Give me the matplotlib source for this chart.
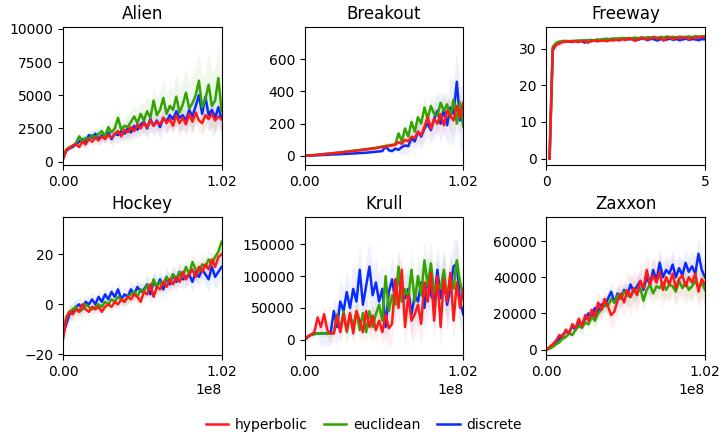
import numpy as np
import matplotlib
matplotlib.use("Agg")
import matplotlib.pyplot as plt

games = ["Alien", "Breakout", "Freeway", "Hockey", "Krull", "Zaxxon"]
methods = ["hyperbolic", "euclidean", "discrete"]
colors = {"hyperbolic": "#ff1a1a", "euclidean": "#33a300", "discrete": "#0a2bff"}

alien_hyperbolic = [200, 900, 1000, 1200, 1300, 1100, 1500, 1300, 1700, 1500, 1800, 1600, 1900, 1700, 2000, 1800, 2100, 2300, 1900, 2400, 2200, 2600, 2300, 2800, 2500, 2900, 2600, 3100, 2700, 3000, 2800, 3300, 2900, 3200, 2700, 3500, 2900, 3300, 2800, 3600, 3000, 3700, 3100, 2900, 3500, 3200, 3600, 3100, 3400, 3200]
alien_euclidean = [200, 900, 1100, 1200, 1400, 1900, 1500, 1800, 1700, 2000, 1800, 2100, 2300, 1900, 2600, 2200, 2500, 3300, 2400, 2700, 2600, 3000, 3400, 2900, 3600, 3100, 3800, 3300, 4600, 3500, 3900, 4800, 3600, 4200, 3900, 4900, 3700, 4300, 5200, 4000, 4400, 5000, 6100, 4100, 4700, 5800, 4200, 4600, 6300, 3800]
alien_discrete = [200, 800, 1000, 1100, 1300, 1500, 1700, 1400, 2000, 1800, 2100, 1700, 2000, 1900, 2200, 1700, 2100, 2000, 2300, 2100, 2500, 2200, 2700, 2400, 2800, 3000, 2500, 3200, 2700, 3100, 2600, 3300, 3000, 3500, 3200, 3800, 3300, 3500, 3100, 3900, 3400, 4200, 5000, 3600, 4900, 3500, 3900, 3300, 4100, 3200]

breakout_hyperbolic = [0, 2, 3, 5, 7, 9, 11, 13, 15, 17, 19, 21, 23, 26, 28, 30, 33, 35, 38, 40, 42, 45, 48, 52, 55, 58, 62, 65, 70, 85, 75, 100, 90, 120, 110, 150, 130, 180, 240, 170, 230, 200, 260, 190, 280, 250, 220, 310, 240, 330]
breakout_euclidean = [0, 2, 4, 6, 8, 10, 12, 14, 16, 18, 20, 22, 25, 27, 30, 32, 35, 37, 40, 42, 45, 48, 50, 55, 58, 62, 65, 68, 72, 140, 90, 170, 120, 210, 150, 240, 200, 300, 230, 310, 260, 250, 330, 280, 320, 240, 350, 200, 330, 180]
breakout_discrete = [0, 1, 2, 3, 4, 5, 6, 7, 8, 9, 10, 11, 12, 13, 14, 15, 16, 18, 19, 20, 22, 24, 26, 28, 30, 60, 35, 30, 45, 38, 55, 65, 60, 110, 90, 150, 120, 170, 200, 160, 230, 280, 200, 290, 190, 300, 260, 460, 220, 260]

freeway_hyperbolic = [0, 30, 31, 31.3, 31.8, 32, 31.9, 32, 32, 31.8, 32, 32.1, 31.6, 32, 32.2, 32, 32.1, 32.2, 32, 32.3, 32.2, 32.4, 32.2, 32.6, 32.3, 32.8, 32.5, 32.1, 32.6, 32.9, 32.7, 32.5, 32.8, 33, 32.7, 32.9, 32.2, 33, 32.8, 32.6, 33, 32.7, 33.1, 32.9, 32.6, 33, 32.8, 33.1, 33.2, 33.1]
freeway_euclidean = [0, 30.5, 31.5, 31.9, 32, 32.1, 32, 32.1, 32, 32.2, 32.1, 32.3, 32.1, 32.4, 32.2, 32.5, 32.3, 32.6, 32.7, 32.5, 32.8, 32.6, 32.8, 32.9, 32.7, 32.9, 32.8, 33, 32.8, 33.1, 32.9, 33.1, 33, 33.2, 32.9, 33.2, 33, 33.3, 33.1, 33.2, 33, 33.3, 33.1, 33.2, 33.3, 33.1, 33.4, 33.2, 33.3, 33.4]
freeway_discrete = [0, 29.5, 31, 31.6, 31.8, 31.9, 32, 31.8, 32.1, 32, 32.2, 31.6, 32.3, 32, 32.2, 32.1, 32.4, 32.5, 32.3, 32.6, 32.4, 32.7, 32.5, 32.6, 32.8, 32.5, 32.7, 32.6, 32.4, 32.8, 32.6, 32.3, 32.7, 32.5, 32.2, 32.6, 32.3, 32.5, 32.7, 32.4, 32.6, 32.3, 32.5, 32.7, 32.4, 32.6, 32.5, 32.3, 32.6, 32.5]

hockey_hyperbolic = [-14, -6, -3, -4, -2, -3, 0, -2, -3, -1, -2, -1, -3, -1, 0, -1, 1, 0, 2, 1, 3, 2, 4, 3, 1, 5, 4, 8, 3, 7, 6, 9, 7, 10, 8, 11, 9, 13, 10, 12, 14, 11, 15, 13, 16, 14, 18, 15, 19, 20]
hockey_euclidean = [-12, -5, -3, -2, -1, -3, -2, 0, -1, -2, -1, 0, -1, 1, 0, 2, 1, 3, 2, 1, 3, 4, 5, 3, 6, 5, 8, 6, 10, 7, 9, 8, 11, 9, 12, 10, 13, 11, 15, 12, 17, 14, 13, 16, 15, 18, 16, 19, 21, 25]
hockey_discrete = [-12, -8, -4, -3, -1, 0, -2, 1, 0, 2, 0, 3, 1, 4, 2, 5, 3, 6, 2, 4, 3, 6, 4, 7, 5, 6, 8, 4, 9, 7, 10, 6, 11, 8, 12, 9, 13, 10, 11, 12, 9, 13, 11, 14, 12, 10, 15, 11, 13, 15]

krull_hyperbolic = [0, 5000, 8000, 12000, 35000, 20000, 40000, 15000, 10000, 10000, 38000, 12000, 40000, 15000, 42000, 10000, 45000, 30000, 12000, 45000, 20000, 38000, 15000, 30000, 12000, 40000, 18000, 25000, 95000, 50000, 110000, 20000, 70000, 30000, 40000, 55000, 25000, 90000, 60000, 105000, 30000, 100000, 20000, 95000, 60000, 105000, 30000, 90000, 50000, 80000]
krull_euclidean = [0, 5000, 8000, 9000, 10000, 10000, 10000, 10000, 10000, 10000, 40000, 15000, 45000, 12000, 40000, 20000, 45000, 15000, 42000, 12000, 45000, 20000, 40000, 55000, 30000, 100000, 45000, 70000, 55000, 115000, 60000, 80000, 65000, 110000, 60000, 100000, 70000, 125000, 85000, 120000, 75000, 90000, 80000, 110000, 65000, 95000, 80000, 125000, 90000, 70000]
krull_discrete = [0, 5000, 8000, 9000, 10000, 10000, 10000, 10000, 10000, 45000, 20000, 60000, 45000, 75000, 50000, 80000, 60000, 110000, 55000, 85000, 115000, 70000, 90000, 60000, 80000, 20000, 75000, 95000, 60000, 105000, 70000, 65000, 80000, 40000, 70000, 60000, 90000, 50000, 100000, 70000, 60000, 110000, 65000, 100000, 55000, 80000, 115000, 120000, 60000, 40000]

zaxxon_hyperbolic = [0, 1500, 3000, 5000, 8000, 7000, 11000, 9000, 14000, 12000, 17000, 13000, 19000, 16000, 22000, 18000, 26000, 22000, 28000, 24000, 19000, 21000, 27000, 31000, 26000, 33000, 29000, 34000, 30000, 38000, 34000, 44000, 36000, 41000, 37000, 43000, 33000, 40000, 36000, 42000, 34000, 39000, 41000, 35000, 40000, 37000, 42000, 32000, 39000, 36000]
zaxxon_euclidean = [0, 500, 1500, 3000, 4000, 6000, 7000, 9000, 8000, 11000, 13000, 12000, 15000, 14000, 18000, 16000, 20000, 22000, 25000, 24000, 28000, 26000, 30000, 28000, 32000, 30000, 29000, 33000, 31000, 34000, 27000, 33000, 36000, 31000, 35000, 34000, 37000, 33000, 36000, 35000, 32000, 38000, 34000, 37000, 33000, 35000, 38000, 34000, 37000, 33000]
zaxxon_discrete = [0, 1000, 2500, 4000, 6000, 8000, 10000, 9000, 13000, 11000, 15000, 14000, 17000, 20000, 18000, 23000, 21000, 25000, 24000, 28000, 32000, 26000, 31000, 28000, 33000, 30000, 36000, 32000, 35000, 38000, 33000, 40000, 36000, 44000, 38000, 48000, 40000, 44000, 42000, 47000, 40000, 45000, 41000, 48000, 43000, 46000, 42000, 53000, 44000, 40000]

# spread (standard deviation) per tenth of training, for shaded bands
alien_std = {"hyperbolic": [100, 300, 400, 500, 600, 600, 700, 800, 800, 900],
             "euclidean": [100, 400, 500, 700, 900, 1200, 1500, 1800, 2200, 2500],
             "discrete": [100, 400, 500, 600, 700, 800, 900, 1000, 1100, 1200]}
breakout_std = {"hyperbolic": [2, 5, 8, 10, 12, 20, 40, 60, 80, 100],
                "euclidean": [2, 5, 8, 10, 12, 20, 50, 70, 80, 90],
                "discrete": [1, 3, 5, 6, 8, 15, 50, 80, 120, 200]}
freeway_std = {"hyperbolic": [0.8, 0.5, 0.4, 0.4, 0.4, 0.5, 0.5, 0.5, 0.5, 0.6],
               "euclidean": [0.8, 0.5, 0.4, 0.4, 0.4, 0.5, 0.5, 0.5, 0.5, 0.6],
               "discrete": [0.8, 0.5, 0.4, 0.4, 0.5, 0.5, 0.6, 0.6, 0.6, 0.7]}
hockey_std = {"hyperbolic": [3, 2, 2, 2, 2, 2, 3, 3, 3, 3],
              "euclidean": [3, 2, 2, 2, 3, 3, 3, 3, 4, 4],
              "discrete": [3, 3, 3, 3, 3, 4, 4, 4, 4, 5]}
krull_std = {"hyperbolic": [8000, 15000, 20000, 20000, 20000, 30000, 35000, 35000, 35000, 35000],
             "euclidean": [3000, 5000, 15000, 20000, 25000, 30000, 35000, 35000, 35000, 35000],
             "discrete": [3000, 20000, 35000, 40000, 40000, 35000, 35000, 40000, 40000, 40000]}
zaxxon_std = {"hyperbolic": [1000, 2000, 4000, 6000, 8000, 10000, 10000, 10000, 10000, 10000],
              "euclidean": [1000, 2000, 3000, 4000, 5000, 6000, 6000, 7000, 7000, 8000],
              "discrete": [1000, 2000, 3000, 4000, 5000, 6000, 7000, 8000, 8000, 9000]}

series = {
    "Alien": (alien_hyperbolic, alien_euclidean, alien_discrete, alien_std),
    "Breakout": (breakout_hyperbolic, breakout_euclidean, breakout_discrete, breakout_std),
    "Freeway": (freeway_hyperbolic, freeway_euclidean, freeway_discrete, freeway_std),
    "Hockey": (hockey_hyperbolic, hockey_euclidean, hockey_discrete, hockey_std),
    "Krull": (krull_hyperbolic, krull_euclidean, krull_discrete, krull_std),
    "Zaxxon": (zaxxon_hyperbolic, zaxxon_euclidean, zaxxon_discrete, zaxxon_std),
}

ylims = {"Alien": (-250, 10150), "Breakout": (-56, 800), "Freeway": (-1.7, 35.9),
         "Hockey": (-20.3, 35), "Krull": (-24000, 193000), "Zaxxon": (-3000, 73300)}
yticks = {"Alien": [0, 2500, 5000, 7500, 10000], "Breakout": [0, 200, 400, 600],
          "Freeway": [0, 10, 20, 30], "Hockey": [-20, 0, 20],
          "Krull": [0, 50000, 100000, 150000], "Zaxxon": [0, 20000, 40000, 60000]}

fig, axes = plt.subplots(2, 3, figsize=(7.19, 4.34), dpi=100)
fig.subplots_adjust(left=0.0876, right=0.9805, top=0.938, bottom=0.182,
                    wspace=0.524, hspace=0.377)

handles = {}
for ax, g in zip(axes.flat, games):
    h, e, d, std = series[g]
    vals = {"hyperbolic": h, "euclidean": e, "discrete": d}
    n = len(h)
    if g == "Freeway":
        x = np.linspace(0.1, 5.0, n)
    else:
        x = np.linspace(0, 1.02e8, n)
    for m in ["discrete", "euclidean", "hyperbolic"]:
        y = np.array(vals[m], dtype=float)
        s = np.repeat(np.array(std[m], dtype=float), n // len(std[m]))
        ax.fill_between(x, y - s, y + s, color=colors[m], alpha=0.07, lw=0)
    for m in ["discrete", "euclidean", "hyperbolic"]:
        line, = ax.plot(x, vals[m], color=colors[m], lw=1.8, label=m)
        handles[m] = line
    ax.set_title(g, fontsize=12)
    ax.set_ylim(*ylims[g])
    ax.set_yticks(yticks[g])
    if g == "Freeway":
        ax.set_xlim(0, 5)
        ax.set_xticks([0, 5])
    else:
        ax.set_xlim(0, 1.02e8)
        ax.set_xticks([0, 1.02e8])
    ax.tick_params(labelsize=10)

for ax in axes[0]:
    ax.xaxis.get_offset_text().set_visible(False)

fig.legend([handles[m] for m in methods], methods, loc="lower center", ncol=3,
           frameon=False, fontsize=10, bbox_to_anchor=(0.506, -0.024),
           handlelength=1.6, handletextpad=0.5, columnspacing=1.2)

fig.savefig("out.png", dpi=100)
